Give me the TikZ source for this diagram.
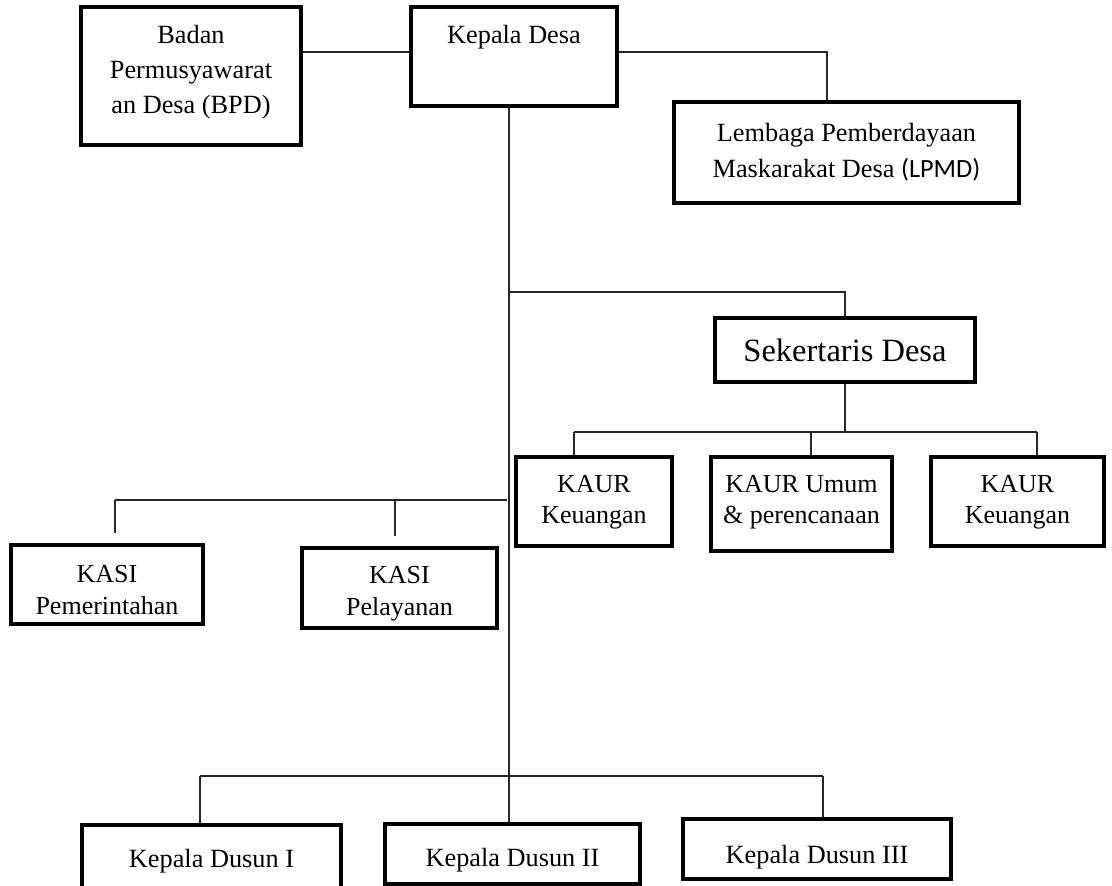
\documentclass[tikz,border=0pt]{standalone}
\usepackage{fontspec}
\setmainfont{Liberation Serif}
\newfontfamily\calfont{Carlito}
\begin{document}
\begin{tikzpicture}[x=1pt,y=-1pt,
  box/.style={draw=black,line width=3.6pt,inner sep=0pt,align=center,
    font=\fontsize{26.3}{33}\selectfont},
  conn/.style={draw=black!85,line width=1.1pt}]
\useasboundingbox (0,0) rectangle (1112,886);
% text height = last baseline - top, text depth = bottom - last baseline
\node[box,minimum width=220,minimum height=138,text height=106pt,text depth=32pt,
  font=\fontsize{26.3}{35}\selectfont] (bpd) at (191,76)
  {Badan\\Permusyawarat\\an Desa (BPD)};
\node[box,minimum width=206,minimum height=99,text height=36pt,text depth=63pt] (kd) at (514,56.5)
  {Kepala Desa};
\node[box,minimum width=345,minimum height=101,text height=75pt,text depth=26pt,
  font=\fontsize{26.3}{36}\selectfont] (lpmd) at (846.5,152.5)
  {Lembaga Pemberdayaan\\Maskarakat Desa {\calfont(LPMD)}};
% sekretaris
\node[box,minimum width=260,minimum height=64,text height=43pt,text depth=21pt,
  font=\fontsize{32.5}{38}\selectfont] (sek) at (845,350)
  {Sekertaris Desa};
\node[box,minimum width=156,minimum height=89,text height=66pt,text depth=23pt,
  font=\fontsize{26}{31}\selectfont] (kaur1) at (594,501.5)
  {KAUR\\Keuangan};
\node[box,minimum width=181,minimum height=94,text height=66pt,text depth=28pt,
  font=\fontsize{26}{31}\selectfont] (kaur2) at (801.5,504)
  {KAUR Umum\\\& perencanaan};
\node[box,minimum width=173,minimum height=89,text height=66pt,text depth=23pt,
  font=\fontsize{26}{31}\selectfont] (kaur3) at (1017.5,501.5)
  {KAUR\\Keuangan};
% kasi
\node[box,minimum width=192,minimum height=79,text height=69pt,text depth=10pt,
  font=\fontsize{26}{32}\selectfont] (kasi1) at (107,584.5)
  {KASI\\Pemerintahan};
\node[box,minimum width=195,minimum height=80,text height=67pt,text depth=13pt,
  font=\fontsize{26}{32}\selectfont] (kasi2) at (399.5,588)
  {KASI\\Pelayanan};
% dusun
\node[box,minimum width=259,minimum height=67,text height=42pt,text depth=25pt] (kdus1) at (211.5,858.5) {Kepala Dusun I};
\node[box,minimum width=255,minimum height=60,text height=42pt,text depth=18pt] (kdus2) at (512.5,854) {Kepala Dusun II};
\node[box,minimum width=268,minimum height=60,text height=44pt,text depth=16pt] (kdus3) at (817,849) {Kepala Dusun III};
% junction coordinates
\coordinate (jb) at (0,52);
\coordinate (jl) at (827,52);
\coordinate (tr) at (509,0);
\coordinate (s1) at (509,292);
\coordinate (s2) at (845,292);
\coordinate (s3) at (845,432);
\coordinate (k1) at (574,432);
\coordinate (k2) at (811,432);
\coordinate (k3) at (1037,432);
\coordinate (a1) at (115,500);
\coordinate (a2) at (395,500);
\coordinate (a3) at (507,500);
\coordinate (a1e) at (115,533);
\coordinate (a2e) at (395,536);
\coordinate (d1) at (200,776);
\coordinate (d3) at (823,776);
% connectors
\draw[conn] (bpd.east |- jb) -- (kd.west |- jb);
\draw[conn] (kd.east |- jl) -- (jl) -- (jl |- lpmd.north);
\draw[conn] (tr |- kd.south) -- (tr |- kdus2.north);
\draw[conn] (s1) -- (s2) -- (sek.north);
\draw[conn] (sek.south) -- (s3);
\draw[conn] (k1) -- (k3);
\draw[conn] (k1) -- (k1 |- kaur1.north);
\draw[conn] (k2) -- (k2 |- kaur2.north);
\draw[conn] (k3) -- (k3 |- kaur3.north);
\draw[conn] (a1) -- (a3);
\draw[conn] (a1) -- (a1e);
\draw[conn] (a2) -- (a2e);
\draw[conn] (d1) -- (d3);
\draw[conn] (d1) -- (d1 |- kdus1.north);
\draw[conn] (d3) -- (d3 |- kdus3.north);
\end{tikzpicture}
\end{document}
